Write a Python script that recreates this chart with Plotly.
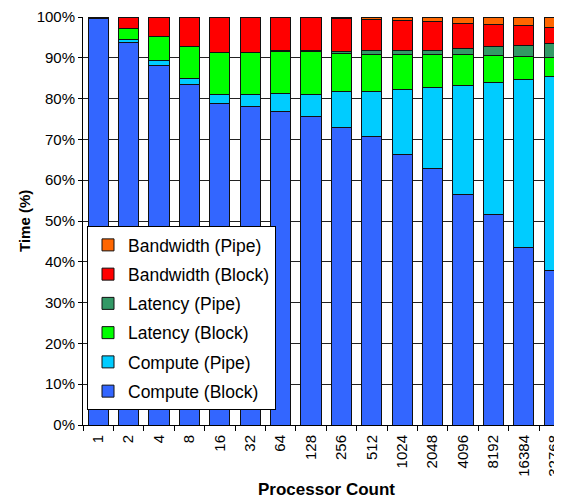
import plotly.graph_objects as go

categories = ["1", "2", "4", "8", "16", "32", "64", "128", "256", "512",
              "1024", "2048", "4096", "8192", "16384", "32768"]

compute_block = [99.6, 93.7, 88.2, 83.5, 78.8, 78.0, 76.8, 75.5, 73.0, 70.8,
                 66.3, 62.8, 56.6, 51.5, 43.6, 37.8]
compute_pipe = [0.0, 0.8, 1.2, 1.4, 2.2, 2.9, 4.5, 5.6, 8.7, 10.9,
                16.0, 19.9, 26.6, 32.5, 41.1, 47.6]
latency_block = [0.1, 2.8, 5.7, 7.9, 10.2, 10.3, 10.2, 10.4, 9.4, 9.2,
                 8.6, 8.2, 7.7, 6.5, 5.7, 4.7]
latency_pipe = [0.0, 0.0, 0.0, 0.0, 0.0, 0.0, 0.3, 0.3, 0.4, 0.8,
                1.0, 1.0, 1.4, 2.2, 2.6, 3.3]
bandwidth_block = [0.3, 2.7, 4.9, 7.2, 8.8, 8.8, 8.0, 8.0, 8.2, 7.6,
                   7.3, 6.9, 6.1, 5.5, 4.8, 4.0]
bandwidth_pipe = [0.0, 0.0, 0.0, 0.0, 0.0, 0.0, 0.2, 0.2, 0.3, 0.7,
                  0.8, 1.2, 1.6, 1.8, 2.2, 2.6]

series = [
    ("Compute (Block)", compute_block, "#3366FF"),
    ("Compute (Pipe)", compute_pipe, "#00CCFF"),
    ("Latency (Block)", latency_block, "#00FF00"),
    ("Latency (Pipe)", latency_pipe, "#339966"),
    ("Bandwidth (Block)", bandwidth_block, "#FF0000"),
    ("Bandwidth (Pipe)", bandwidth_pipe, "#FF6600"),
]

FONT = "Arial, Liberation Sans, sans-serif"

fig = go.Figure()
for i, (name, vals, color) in enumerate(series):
    fig.add_trace(go.Bar(
        x=categories, y=vals, name=name, legendgroup=name,
        legendrank=len(series) - i,
        marker=dict(color=color, line=dict(color="#111111", width=1)),
    ))

# page has an 8px body margin; figure coords = page coords - 8
OFF = 8
W, H = 562 - OFF, 502 - OFF
PLOT_TOP, PLOT_BOTTOM, PLOT_LEFT = 17, 425, 83
L, T = PLOT_LEFT - OFF, PLOT_TOP - OFF
pw = 562 - PLOT_LEFT          # plot runs to the right window edge (clipped)
ph = PLOT_BOTTOM - PLOT_TOP
R = W - L - pw
B = H - T - ph
pitch = 30.4


def px_x(page_x):
    return (page_x - OFF - L) / pw


def px_y(page_y):
    return (T + ph - (page_y - OFF)) / ph


fig.update_layout(
    width=W, height=H,
    margin=dict(l=L, r=R, t=T, b=B, pad=0, autoexpand=False),
    barmode="stack", bargap=0.33,
    plot_bgcolor="white", paper_bgcolor="white",
    font=dict(family=FONT, color="black", size=15),
    showlegend=True,
    legend=dict(
        x=px_x(87), y=px_y(226), xanchor="left", yanchor="top",
        bgcolor="white", bordercolor="black", borderwidth=1,
        font=dict(family=FONT, size=17.5, color="black"),
        traceorder="grouped", tracegroupgap=3.5,
        itemwidth=30,
    ),
    xaxis=dict(
        type="category", range=[-0.5, -0.5 + pw / pitch],
        tickson="boundaries", ticks="outside", ticklen=5, tickcolor="black",
        tickangle=-90, tickfont=dict(size=15), ticklabelstandoff=3,
        showline=True, linecolor="black", linewidth=1,
        showgrid=False, automargin=False, ticklabeloverflow="allow",
    ),
    yaxis=dict(
        range=[0, 100], dtick=10, ticksuffix="%",
        ticks="outside", ticklen=4, tickcolor="black",
        tickfont=dict(size=15), ticklabeloverflow="allow",
        showline=True, linecolor="black", linewidth=1,
        showgrid=True, gridcolor="#222222", gridwidth=1,
        zeroline=False, automargin=False,
    ),
    annotations=[
        dict(text="<b>Time (%)</b>", textangle=-90, xref="paper", yref="paper",
             x=px_x(24), y=0.5, xanchor="center", yanchor="middle",
             showarrow=False, font=dict(size=15)),
        dict(text="<b>Processor Count</b>", xref="x", yref="paper",
             x=7.5, y=px_y(490), xanchor="center", yanchor="middle",
             showarrow=False, font=dict(size=17)),
    ],
)

fig.write_html("out.html", config={"displayModeBar": False})
